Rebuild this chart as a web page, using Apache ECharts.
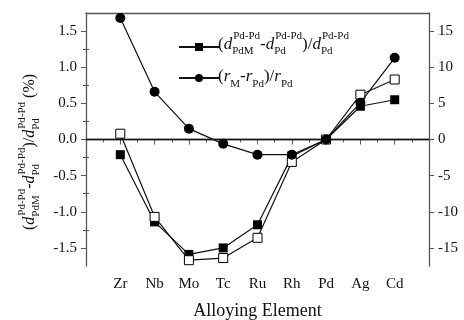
<!DOCTYPE html>
<html>
<head>
<meta charset="utf-8">
<title>Alloying Element</title>
<script src="https://cdn.jsdelivr.net/npm/echarts@6/dist/echarts.min.js"></script>
<style>
  html, body { margin: 0; padding: 0; background: #fff; }
  #main { width: 464px; height: 320px; }
</style>
</head>
<body>
<div id="main"></div>
<script>
// data
var categories = ['Zr', 'Nb', 'Mo', 'Tc', 'Ru', 'Rh', 'Pd', 'Ag', 'Cd'];
var dFilled = [-0.21, -1.14, -1.59, -1.50, -1.18, -0.23, 0.0, 0.46, 0.55];   // left axis
var dOpen   = [0.08, -1.07, -1.67, -1.64, -1.36, -0.31, 0.0, 0.62, 0.83];    // left axis
var rRel    = [16.8, 6.6, 1.5, -0.6, -2.1, -2.1, 0.0, 5.1, 11.3];            // right axis (%)
var leftTicks  = [-1.5, -1.0, -0.5, 0, 0.5, 1.0, 1.5];
var leftMinor  = [-1.25, -0.75, -0.25, 0.25, 0.75, 1.25];
var rightTicks = [-15, -10, -5, 0, 5, 10, 15];
var rightMinor = [-12.5, -7.5, -2.5, 2.5, 7.5, 12.5];

var FONT = '"Liberation Serif", "Times New Roman", serif';
var INK = '#111';
var AXIS = '#555';

// small layout helper for text with super/subscripts
var ctx = document.createElement('canvas').getContext('2d');
function tw(s, size, it) {
  ctx.font = (it ? 'italic ' : '') + size + 'px ' + FONT;
  return ctx.measureText(s).width;
}
function txt(s, x, y, size, it) {
  return {
    type: 'text', x: x, y: y, silent: true,
    style: { text: s, fontSize: size, fontFamily: FONT, fontStyle: it ? 'italic' : 'normal',
             fill: INK, verticalAlign: 'middle', align: 'left' }
  };
}
function mathText(tokens, fs, sfs, supDy, subDy) {
  var x = 0, kids = [];
  tokens.forEach(function (tk) {
    if (tk.t !== undefined) {
      kids.push(txt(tk.t, x, 0, fs, tk.i));
      x += tw(tk.t, fs, tk.i);
    } else {
      var ww = 0;
      if (tk.sup) { kids.push(txt(tk.sup, x + 1, supDy, sfs)); ww = Math.max(ww, tw(tk.sup, sfs) + 1); }
      if (tk.sub) { kids.push(txt(tk.sub, x, subDy, sfs)); ww = Math.max(ww, tw(tk.sub, sfs)); }
      x += ww;
    }
  });
  return { kids: kids, width: x };
}

var dTokens = [
  { t: '(' }, { t: 'd', i: 1 }, { sup: 'Pd-Pd', sub: 'PdM' }, { t: '-' },
  { t: 'd', i: 1 }, { sup: 'Pd-Pd', sub: 'Pd' }, { t: ')/' },
  { t: 'd', i: 1 }, { sup: 'Pd-Pd', sub: 'Pd' }
];
var rTokens = [
  { t: '(' }, { t: 'r', i: 1 }, { sub: 'M' }, { t: '-' },
  { t: 'r', i: 1 }, { sub: 'Pd' }, { t: ')/' }, { t: 'r', i: 1 }, { sub: 'Pd' }
];
var yTokens = dTokens.concat([{ t: ' (%)' }]);

var leg1 = mathText(dTokens, 17, 11, -9, 6);
var leg2 = mathText(rTokens, 17, 11, -9, 7);
var ytl = mathText(yTokens, 16, 11, -8, 6);

var myChart = echarts.init(document.getElementById('main'));

function pts(arr) {
  return arr.map(function (v, i) { return [i + 1, v]; });
}

var option = {
  animation: false,
  backgroundColor: '#fff',
  grid: { left: 86, right: 35, top: 13, bottom: 54, outerBoundsMode: 'none', containLabel: false },
  legend: {
    data: ['dev', 'rad'],
    orient: 'vertical',
    left: 173, top: 37,
    itemWidth: 40, itemHeight: 10, itemGap: 22,
    formatter: function () { return ''; },
    textStyle: { fontSize: 10 }
  },
  xAxis: [{
    type: 'value', position: 'bottom', min: 0, max: 10, interval: 1,
    name: 'Alloying Element', nameLocation: 'middle', nameGap: 36,
    nameTextStyle: { fontSize: 18, fontFamily: FONT, color: INK },
    axisLine: { lineStyle: { color: AXIS, width: 1.3 } },
    axisTick: { length: 5, lineStyle: { color: AXIS } },
    minorTick: { show: true, splitNumber: 2, length: 3, lineStyle: { color: AXIS } },
    splitLine: { show: false },
    axisLabel: {
      margin: 11, fontSize: 15, fontFamily: FONT, color: INK,
      formatter: function (v) { return categories[v - 1] || ''; }
    }
  }, {
    type: 'value', position: 'top', min: 0, max: 10,
    axisLine: { show: true, onZero: false, lineStyle: { color: AXIS, width: 1.3 } },
    axisTick: { show: false }, axisLabel: { show: false }, splitLine: { show: false }
  }],
  yAxis: [{
    type: 'value', position: 'left', min: -1.75, max: 1.75,
    axisLine: { show: true, onZero: false, lineStyle: { color: AXIS, width: 1.3 } },
    axisTick: { customValues: leftTicks, length: 5, lineStyle: { color: AXIS } },
    axisLabel: {
      customValues: leftTicks, margin: 9, fontSize: 15, fontFamily: FONT, color: INK,
      formatter: function (v) { return v.toFixed(1); }
    },
    splitLine: { show: false }
  }, {
    type: 'value', position: 'right', min: -17.5, max: 17.5,
    axisLine: { show: true, onZero: false, lineStyle: { color: AXIS, width: 1.3 } },
    axisTick: { customValues: rightTicks, length: 5, lineStyle: { color: AXIS } },
    axisLabel: { customValues: rightTicks, margin: 9, fontSize: 15, fontFamily: FONT, color: INK },
    splitLine: { show: false }
  }, {
    type: 'value', position: 'left', min: -1.75, max: 1.75,
    axisLine: { show: false },
    axisTick: { customValues: leftMinor, length: 3, lineStyle: { color: AXIS } },
    axisLabel: { show: false }, splitLine: { show: false }
  }, {
    type: 'value', position: 'right', min: -17.5, max: 17.5,
    axisLine: { show: false },
    axisTick: { customValues: rightMinor, length: 3, lineStyle: { color: AXIS } },
    axisLabel: { show: false }, splitLine: { show: false }
  }],
  series: [{
    name: 'dev', type: 'line', yAxisIndex: 0, z: 3,
    data: pts(dFilled),
    symbol: 'rect', symbolSize: 9,
    itemStyle: { color: '#000' },
    lineStyle: { color: INK, width: 1.2 },
    markLine: {
      silent: true, symbol: 'none', label: { show: false },
      lineStyle: { color: INK, type: 'solid', width: 1.3 },
      data: [{ yAxis: 0 }]
    }
  }, {
    name: 'open', type: 'line', yAxisIndex: 0, z: 4,
    data: pts(dOpen),
    symbol: 'rect', symbolSize: 9,
    itemStyle: { color: '#fff', borderColor: '#000', borderWidth: 1 },
    lineStyle: { color: INK, width: 1.2 }
  }, {
    name: 'rad', type: 'line', yAxisIndex: 1, z: 5,
    data: pts(rRel),
    symbol: 'circle', symbolSize: 10,
    itemStyle: { color: '#000' },
    lineStyle: { color: INK, width: 1.2 }
  }],
  graphic: [
    { type: 'group', x: 218, y: 45, children: leg1.kids },
    { type: 'group', x: 218, y: 77, children: leg2.kids },
    { type: 'group', x: 30, y: 152 + ytl.width / 2, rotation: Math.PI / 2, children: ytl.kids }
  ]
};

myChart.setOption(option);
</script>
</body>
</html>
